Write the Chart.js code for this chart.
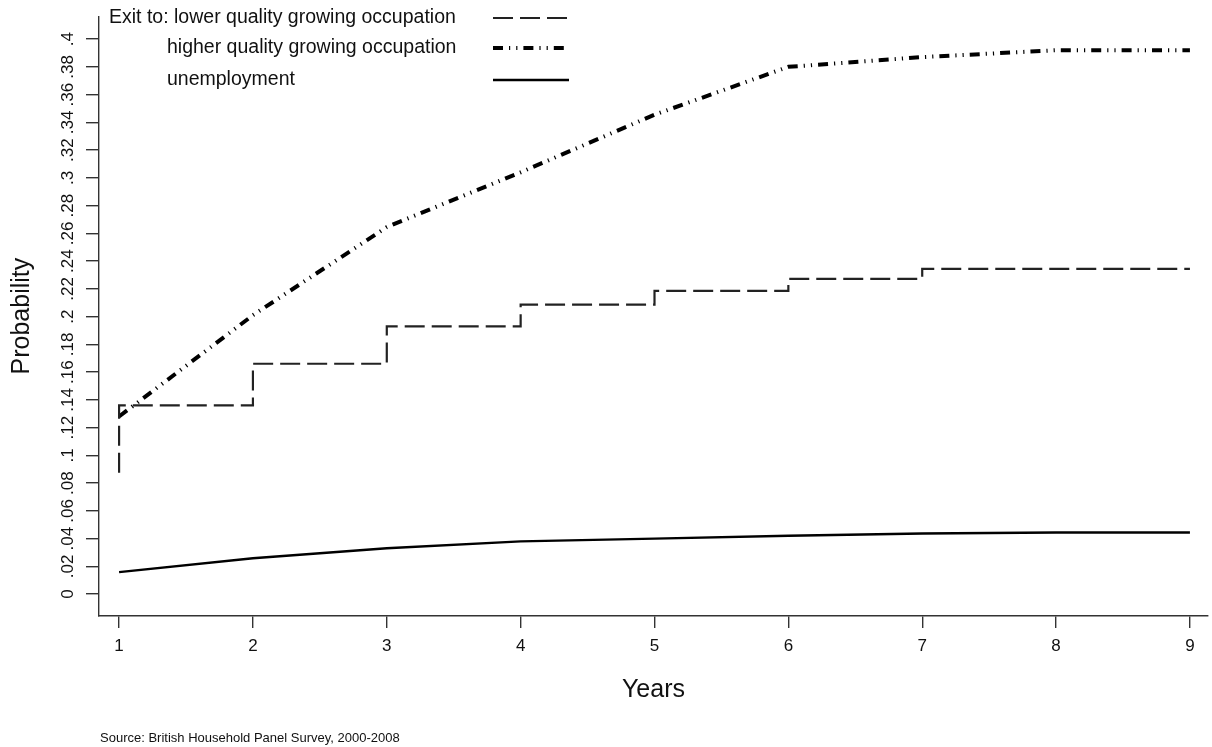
<!DOCTYPE html>
<html>
<head>
<meta charset="utf-8">
<title>Exit probabilities by years</title>
<script src="https://cdn.jsdelivr.net/npm/chart.js@4.4.1/dist/chart.umd.min.js"></script>
<style>
    html, body { margin: 0; padding: 0; background: #fff; }
    #wrap { position: relative; width: 1212px; height: 747px; }
</style>
</head>
<body>
<div id="wrap"><canvas id="grafico" width="1212" height="747"></canvas></div>
<script>
// =====================
// DATA
// =====================
const years = [1, 2, 3, 4, 5, 6, 7, 8, 9];
const lowerStart = 0.0875;
const lowerQuality = [0.136, 0.166, 0.193, 0.2086, 0.2186, 0.2272, 0.2344, 0.2344, 0.2344];
const higherQuality = [0.128, 0.201, 0.2645, 0.304, 0.3455, 0.380, 0.387, 0.392, 0.392];
const unemployment = [0.0158, 0.0258, 0.033, 0.038, 0.040, 0.042, 0.0437, 0.0444, 0.0444];

const yTicks = [0, .02, .04, .06, .08, .1, .12, .14, .16, .18, .2, .22, .24, .26, .28, .3, .32, .34, .36, .38, .4];
const yTickLabels = ["0", ".02", ".04", ".06", ".08", ".1", ".12", ".14", ".16", ".18", ".2",
    ".22", ".24", ".26", ".28", ".3", ".32", ".34", ".36", ".38", ".4"];
const legendLabels = ["lower quality growing occupation", "higher quality growing occupation", "unemployment"];
const sourceNote = "Source: British Household Panel Survey, 2000-2008";

const FONT = "'Liberation Sans', Arial, Helvetica, sans-serif";

// =====================
// SERIES
// =====================
let lowerPoints = [{ x: years[0], y: lowerStart }].concat(years.map((a, i) => ({ x: a, y: lowerQuality[i] })));
let higherPoints = years.map((a, i) => ({ x: a, y: higherQuality[i] }));
let unempPoints = years.map((a, i) => ({ x: a, y: unemployment[i] }));

// =====================
// LEGEND + SOURCE (drawn on the canvas)
// =====================
const legendaPlugin = {
    id: "legenda",
    afterDraw(chart) {
        let ctx = chart.ctx;
        let rows = [18, 48, 80];
        ctx.save();
        ctx.fillStyle = "#111";
        ctx.textBaseline = "middle";
        ctx.textAlign = "left";
        ctx.font = "19.5px " + FONT;
        legendLabels.forEach((txt, i) => {
            if (i === 0) ctx.fillText("Exit to: " + txt, 109, rows[i]);
            else ctx.fillText(txt, 167, rows[i]);
            let ds = chart.data.datasets[i];
            ctx.beginPath();
            ctx.strokeStyle = ds.borderColor;
            ctx.lineWidth = ds.borderWidth;
            ctx.setLineDash(ds.borderDash || []);
            ctx.lineCap = "butt";
            ctx.moveTo(493, rows[i]);
            ctx.lineTo(569, rows[i]);
            ctx.stroke();
        });
        ctx.setLineDash([]);
        ctx.font = "13px " + FONT;
        ctx.fillText(sourceNote, 100, 738);
        ctx.restore();
    }
};

// =====================
// CHART
// =====================
new Chart(document.getElementById("grafico"), {
    type: "line",
    data: {
        datasets: [
            {
                label: legendLabels[0],
                data: lowerPoints,
                borderColor: "#222",
                borderWidth: 2.2,
                borderDash: [20, 7],
                stepped: "before",
                pointRadius: 0,
                fill: false
            },
            {
                label: legendLabels[1],
                data: higherPoints,
                borderColor: "#000",
                borderWidth: 4,
                borderDash: [10, 6, 1.2, 6, 1.2, 6],
                tension: 0,
                pointRadius: 0,
                fill: false
            },
            {
                label: legendLabels[2],
                data: unempPoints,
                borderColor: "#000",
                borderWidth: 2.4,
                tension: 0,
                pointRadius: 0,
                fill: false
            }
        ]
    },
    options: {
        responsive: false,
        animation: false,
        layout: { padding: { top: 13, right: 4, left: 0, bottom: 0 } },
        plugins: {
            legend: { display: false },
            tooltip: { enabled: false }
        },
        scales: {
            x: {
                type: "linear",
                min: 0.85,
                max: 9.135,
                afterBuildTicks: s => { s.ticks = years.map(v => ({ value: v })); },
                afterFit: s => { s.height = 131; },
                ticks: {
                    color: "#111",
                    font: { family: FONT, size: 17 },
                    padding: 8,
                    autoSkip: false,
                    callback: v => String(v)
                },
                grid: { drawOnChartArea: false, drawTicks: true, tickLength: 12, color: "#333", lineWidth: 1.4 },
                border: { display: true, color: "#333", width: 1.4 },
                title: {
                    display: true,
                    text: "Years",
                    color: "#111",
                    font: { family: FONT, size: 25 },
                    padding: { top: 0, bottom: 42 }
                }
            },
            y: {
                type: "linear",
                min: -0.0158,
                max: 0.4165,
                afterBuildTicks: s => { s.ticks = yTicks.map(v => ({ value: v })); },
                afterFit: s => { s.width = 99; },
                ticks: {
                    color: "#111",
                    font: { family: FONT, size: 17 },
                    minRotation: 90,
                    maxRotation: 90,
                    crossAlign: "center",
                    padding: 6,
                    autoSkip: false,
                    callback: v => yTickLabels[yTicks.findIndex(t => Math.abs(t - v) < 1e-6)]
                },
                grid: { drawOnChartArea: false, drawTicks: true, tickLength: 13, color: "#333", lineWidth: 1.4 },
                border: { display: true, color: "#333", width: 1.4 },
                title: {
                    display: true,
                    text: "Probability",
                    color: "#111",
                    font: { family: FONT, size: 25 },
                    padding: { top: 7, bottom: 0 }
                }
            }
        }
    },
    plugins: [legendaPlugin]
});
</script>
</body>
</html>
